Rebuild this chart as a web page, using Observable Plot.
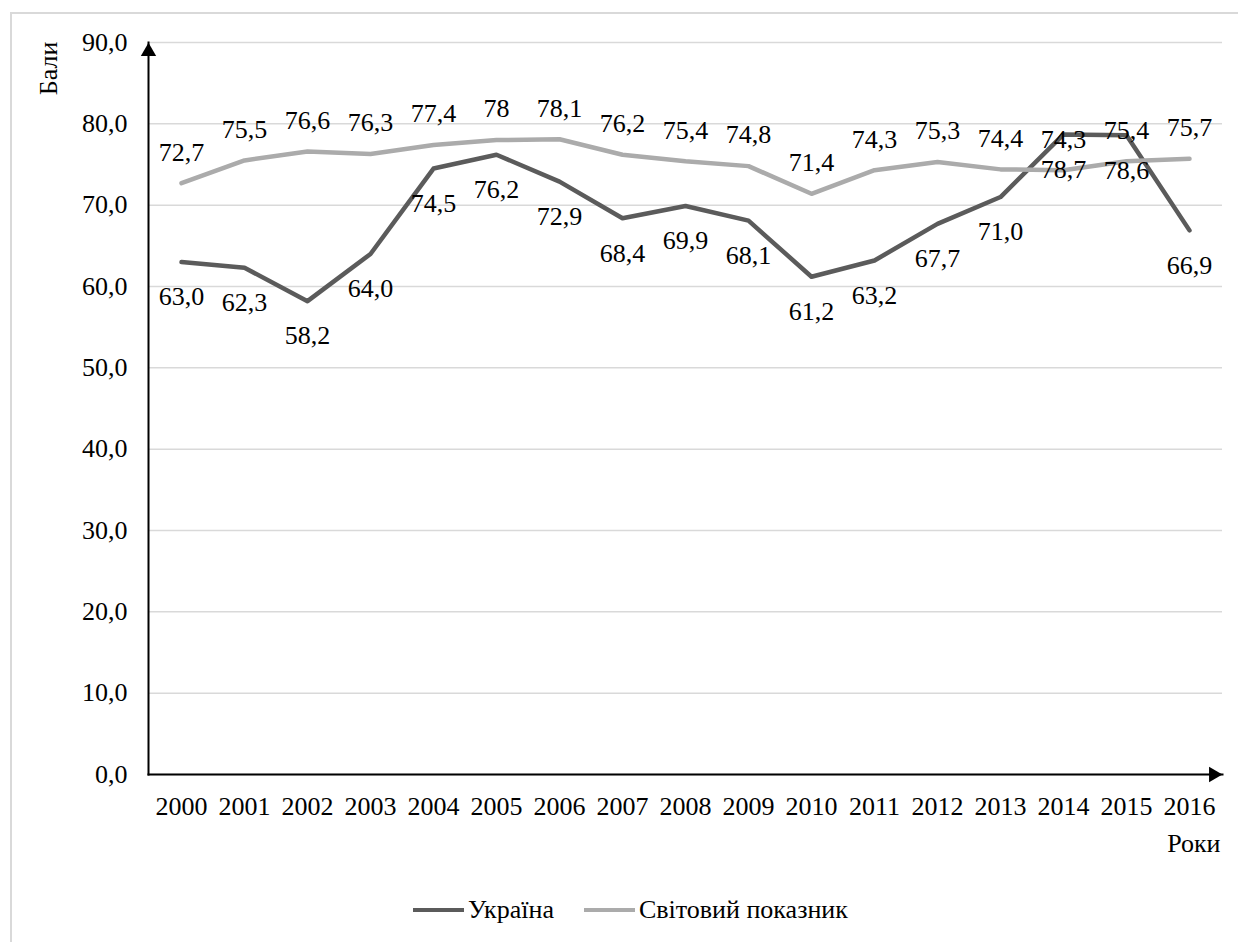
<!DOCTYPE html>
<html>
<head>
<meta charset="utf-8">
<script src="https://cdn.jsdelivr.net/npm/d3@7"></script>
<script src="https://cdn.jsdelivr.net/npm/@observablehq/plot@0.6"></script>
<style>
  body { margin: 0; overflow: hidden; background: #fff; font-family: 'Liberation Serif', serif; }
  #wrap { position: relative; width: 1238px; height: 942px; overflow: hidden; }
  #border { position: absolute; left: 10px; top: 12px; width: 1300px; height: 1000px; border: 2px solid #d9d9d9; }
  #chart { position: absolute; left: 0; top: 0; }
  #legend { position: absolute; top: 895px; left: 413px; display: flex; align-items: center; font-family: 'Liberation Serif', serif; font-size: 26px; color: #000; white-space: nowrap; }
  #legend .sw { display: inline-block; width: 51px; height: 4px; margin-right: 4px; }
  #legend .item { display: flex; align-items: center; margin-right: 30px; }
  #chart svg text { font-family: 'Liberation Serif', serif; }
</style>
</head>
<body>
<div id="wrap">
  <div id="border"></div>
  <div id="chart"></div>
  <div id="legend"></div>
</div>
<script>
// Years on the horizontal axis
const years = [2000, 2001, 2002, 2003, 2004, 2005, 2006, 2007, 2008, 2009, 2010, 2011, 2012, 2013, 2014, 2015, 2016];
// Scores for Ukraine
const ukraine = [63.0, 62.3, 58.2, 64.0, 74.5, 76.2, 72.9, 68.4, 69.9, 68.1, 61.2, 63.2, 67.7, 71.0, 78.7, 78.6, 66.9];
// World benchmark scores
const world = [72.7, 75.5, 76.6, 76.3, 77.4, 78, 78.1, 76.2, 75.4, 74.8, 71.4, 74.3, 75.3, 74.4, 74.3, 75.4, 75.7];
// Series names and colours
const seriesNames = ["Україна", "Світовий показник"];
const seriesColors = ["#5b5b5b", "#ababab"];
// Y-axis ticks
const yTicks = [0, 10, 20, 30, 40, 50, 60, 70, 80, 90];
const yTitle = "Бали";
const xTitle = "Роки";

const comma = s => String(s).replace(".", ",");
const fmt1 = v => comma(v.toFixed(1));
const fmtPlain = v => comma(v);

const rows = years.map((year, i) => ({ year, ukraine: ukraine[i], world: world[i] }));

const FS = 26;
const FF = "Liberation Serif";

const chart = Plot.plot({
  width: 1238,
  height: 942,
  marginTop: 42,
  marginBottom: 168,
  marginLeft: 148,
  marginRight: 16,
  style: { fontFamily: FF, fontSize: FS + "px", color: "#000", background: "transparent" },
  x: { type: "point", domain: years, padding: 0.5, axis: null },
  y: { domain: [0, 90], axis: null },
  marks: [
    Plot.gridY(yTicks, { stroke: "#d9d9d9", strokeOpacity: 1, strokeWidth: 1.5 }),
    Plot.axisY(yTicks, { tickSize: 0, tickPadding: 21, tickFormat: fmt1, fontSize: FS, fontFamily: FF, label: null, fill: "#000" }),
    Plot.axisX(years, { tickSize: 0, tickPadding: 22, tickFormat: d => String(d), fontSize: FS, fontFamily: FF, label: null, fill: "#000" }),
    // axis lines with arrow heads
    Plot.frame({ anchor: "left", stroke: "#000", strokeWidth: 2 }),
    Plot.frame({ anchor: "bottom", stroke: "#000", strokeWidth: 2 }),
    Plot.dot([90], { y: d => d, frameAnchor: "left", symbol: "triangle", r: 5.7, fill: "#000", stroke: "none", dy: 9 }),
    Plot.dot([0], { y: d => d, frameAnchor: "right", symbol: "triangle", r: 5.7, fill: "#000", stroke: "none", rotate: 90, dx: -9 }),
    // series lines
    Plot.lineY(rows, { x: "year", y: "ukraine", stroke: seriesColors[0], strokeWidth: 4.5, strokeLinejoin: "round", strokeLinecap: "round" }),
    Plot.lineY(rows, { x: "year", y: "world", stroke: seriesColors[1], strokeWidth: 4.5, strokeLinejoin: "round", strokeLinecap: "round" }),
    // value labels
    Plot.text(rows, { x: "year", y: "ukraine", text: d => fmt1(d.ukraine), dy: 35, fontSize: FS, fontFamily: FF, fill: "#000", lineAnchor: "middle" }),
    Plot.text(rows, { x: "year", y: "world", text: d => fmtPlain(d.world), dy: -31, fontSize: FS, fontFamily: FF, fill: "#000", lineAnchor: "middle" }),
    // axis titles
    Plot.text([yTitle], { frameAnchor: "top-left", text: d => d, rotate: -90, dx: -100, dy: 26, fontSize: FS, fontFamily: FF, fill: "#000", textAnchor: "middle", lineAnchor: "middle" }),
    Plot.text([xTitle], { frameAnchor: "bottom-right", text: d => d, dx: -2, dy: 69, fontSize: FS, fontFamily: FF, fill: "#000", textAnchor: "end", lineAnchor: "middle" })
  ]
});
document.getElementById("chart").appendChild(chart);

const legend = document.getElementById("legend");
seriesNames.forEach((name, i) => {
  const item = document.createElement("span");
  item.className = "item";
  const sw = document.createElement("span");
  sw.className = "sw";
  sw.style.background = seriesColors[i];
  item.appendChild(sw);
  item.appendChild(document.createTextNode(name));
  legend.appendChild(item);
});
</script>
</body>
</html>
